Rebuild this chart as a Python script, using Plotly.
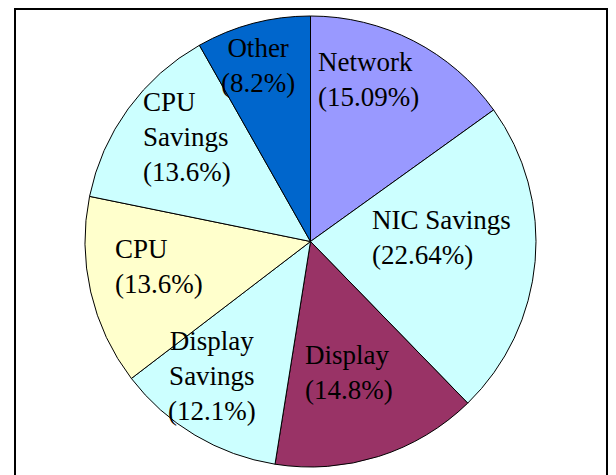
import plotly.graph_objects as go

labels = ["Network", "NIC Savings", "Display", "Display Savings", "CPU", "CPU Savings", "Other"]
values = [15.09, 22.64, 14.8, 12.1, 13.6, 13.6, 8.2]
colors = ["#9999FF", "#CCFFFF", "#993366", "#CCFFFF", "#FFFFCC", "#CCFFFF", "#0066CC"]
label_texts = ["Network<br>(15.09%)", "NIC Savings<br>(22.64%)", "Display<br>(14.8%)",
               "Display<br>Savings<br>(12.1%)", "CPU<br>(13.6%)", "CPU<br>Savings<br>(13.6%)",
               "Other<br>(8.2%)"]
# label placement (pixel left x / center y within the page, anchor)
label_pos = [(316, 80, "left"), (370, 238, "left"), (303, 372, "left"),
             (212, 376, "center"), (113, 266, "left"), (141, 137, "left"),
             (258, 66, "center")]

OFF = 8  # page body margin
W, H = 616, 475
fig = go.Figure(go.Pie(
    labels=labels, values=values, sort=False, direction="clockwise", rotation=0,
    marker=dict(colors=colors, line=dict(color="black", width=1)),
    textinfo="none", hoverinfo="label+percent", showlegend=False,
    domain=dict(x=[77 / W, 528 / W], y=[16 / H, 467 / H]),
))

for txt, (px, py, anc) in zip(label_texts, label_pos):
    fig.add_annotation(x=(px - OFF) / W, y=1 - (py - OFF) / H, xref="paper", yref="paper",
                       text=txt, showarrow=False, xanchor=anc, yanchor="middle",
                       align=anc,
                       font=dict(family="Liberation Serif", size=27, color="black"))

fig.add_shape(type="rect", xref="paper", yref="paper",
              x0=(15 - OFF) / W, x1=(607 - OFF) / W, y0=-0.1, y1=1 - 1 / H,
              line=dict(color="black", width=2))

fig.update_layout(width=W, height=H, margin=dict(l=0, r=0, t=0, b=0),
                  paper_bgcolor="white", plot_bgcolor="white")
fig.write_html("out.html")
